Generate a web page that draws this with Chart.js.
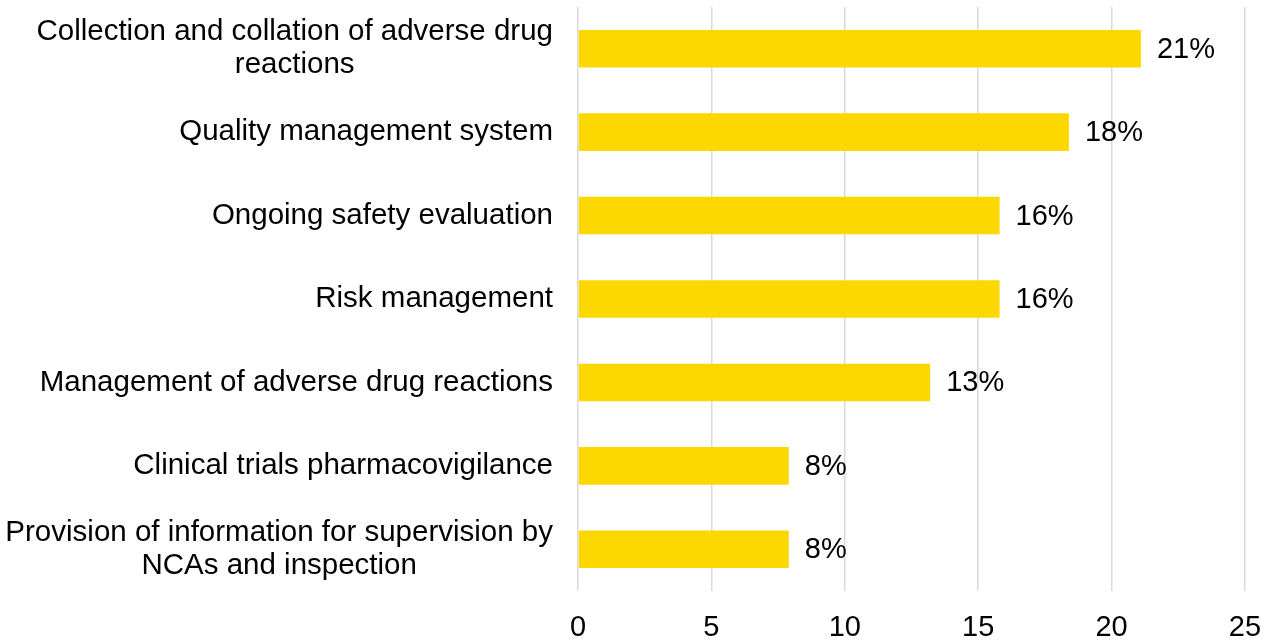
<!DOCTYPE html>
<html>
<head>
<meta charset="utf-8">
<script src="https://cdn.jsdelivr.net/npm/chart.js@4/dist/chart.umd.min.js"></script>
<style>
  html, body { margin: 0; padding: 0; background: #fff; }
  #wrap { width: 1274px; height: 642px; }
</style>
</head>
<body>
<div id="wrap"><canvas id="chart"></canvas></div>
<script>
  // category labels (one entry per line)
  var categories = [
    ['Collection and collation of adverse drug', 'reactions'],
    ['Quality management system'],
    ['Ongoing safety evaluation'],
    ['Risk management'],
    ['Management of adverse drug reactions'],
    ['Clinical trials pharmacovigilance'],
    ['Provision of information for supervision by', 'NCAs and inspection']
  ];
  var values = [21.1, 18.4, 15.8, 15.8, 13.2, 7.9, 7.9];
  var valueLabels = ['21%', '18%', '16%', '16%', '13%', '8%', '8%'];
  var xTicks = [0, 5, 10, 15, 20, 25];

  var FONT = '"Liberation Sans", Arial, sans-serif';
  var SIZE = 29;
  var barColor = '#FCD800';

  // draws the wrapped category names, block right-aligned, lines centred
  var categoryLabels = {
    id: 'categoryLabels',
    afterDraw: function (chart) {
      var ctx = chart.ctx;
      var yScale = chart.scales.y;
      var right = chart.chartArea.left - 25;
      ctx.save();
      ctx.font = '29.5px ' + FONT;
      ctx.fillStyle = '#000';
      ctx.textAlign = 'center';
      ctx.textBaseline = 'middle';
      categories.forEach(function (lines, i) {
        var y = yScale.getPixelForValue(i);
        var w = 0;
        lines.forEach(function (l) { w = Math.max(w, ctx.measureText(l).width); });
        var cx = right - w / 2;
        var lh = 33;
        var top = y - (lines.length - 1) * lh / 2;
        lines.forEach(function (l, k) {
          ctx.fillText(l, cx, top + k * lh);
        });
      });
      ctx.restore();
    }
  };

  // percentage labels at the end of each bar
  var valueTags = {
    id: 'valueTags',
    afterDatasetsDraw: function (chart) {
      var ctx = chart.ctx;
      var meta = chart.getDatasetMeta(0);
      ctx.save();
      ctx.font = SIZE + 'px ' + FONT;
      ctx.fillStyle = '#000';
      ctx.textAlign = 'left';
      ctx.textBaseline = 'middle';
      meta.data.forEach(function (bar, i) {
        ctx.fillText(valueLabels[i], bar.x + 16, bar.y + 1);
      });
      ctx.restore();
    }
  };

  var ctx = document.getElementById('chart').getContext('2d');
  window.myBar = new Chart(ctx, {
    type: 'bar',
    data: {
      labels: categories.map(function (c) { return c.join(' '); }),
      datasets: [{
        data: values,
        backgroundColor: barColor,
        borderWidth: 0,
        barPercentage: 0.45,
        categoryPercentage: 1
      }]
    },
    options: {
      indexAxis: 'y',
      responsive: true,
      maintainAspectRatio: false,
      animation: false,
      layout: { padding: { top: 7, right: 29, left: 0, bottom: 0 } },
      plugins: {
        legend: { display: false },
        tooltip: { enabled: false }
      },
      scales: {
        x: {
          min: xTicks[0],
          max: xTicks[xTicks.length - 1],
          afterFit: function (scale) {
            scale.height = 51;
            scale.paddingLeft = 0;
            scale.paddingRight = 0;
          },
          afterBuildTicks: function (scale) {
            scale.ticks = xTicks.map(function (v) { return { value: v }; });
          },
          grid: { color: '#d9d9d9', lineWidth: 1.5, drawTicks: false },
          border: { display: false },
          ticks: {
            padding: 20,
            color: '#000',
            font: { family: FONT, size: SIZE }
          }
        },
        y: {
          afterFit: function (scale) { scale.width = 578; },
          grid: { display: false },
          border: { display: false },
          ticks: { display: false }
        }
      }
    },
    plugins: [categoryLabels, valueTags]
  });
</script>
</body>
</html>
